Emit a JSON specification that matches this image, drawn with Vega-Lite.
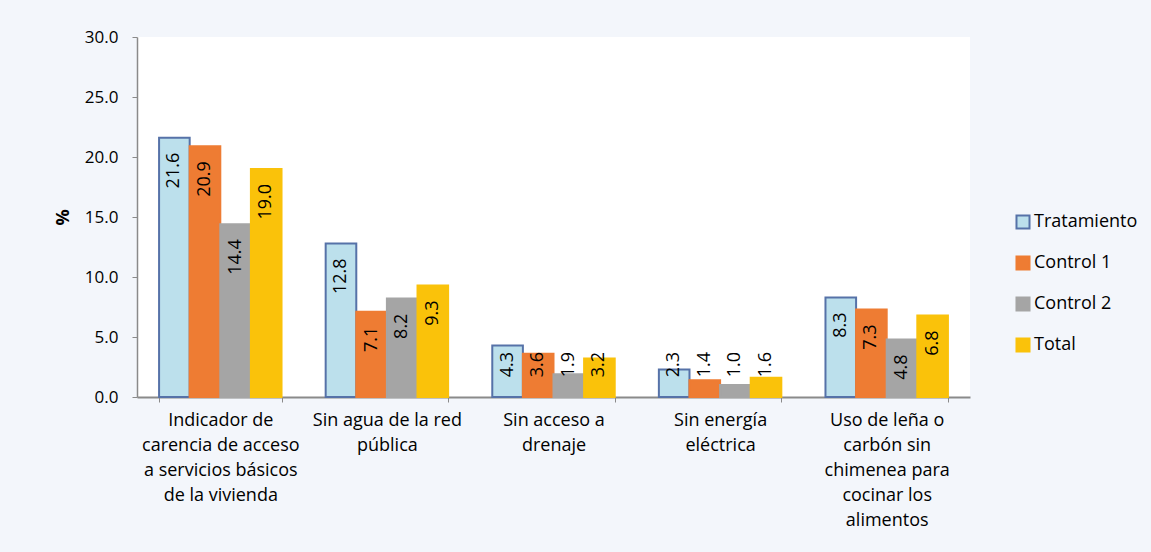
{
  "$schema": "https://vega.github.io/schema/vega-lite/v6.json",
  "width": 833,
  "height": 360,
  "autosize": {"type": "none"},
  "padding": {"left": 137, "top": 37, "right": 181, "bottom": 155},
  "background": "#F3F6FB",
  "config": {
    "font": "Open Sans",
    "view": {"fill": "white", "stroke": null},
    "axis": {"labelFont": "Open Sans", "titleFont": "Open Sans", "labelColor": "#000000", "titleColor": "#000000"},
    "legend": {"labelFont": "Open Sans"}
  },
  "data": {
    "values": [
      {"cat": "Indicador de|carencia de acceso|a servicios básicos|de la vivienda", "serie": "Tratamiento", "v": 21.6},
      {"cat": "Indicador de|carencia de acceso|a servicios básicos|de la vivienda", "serie": "Control 1", "v": 20.9},
      {"cat": "Indicador de|carencia de acceso|a servicios básicos|de la vivienda", "serie": "Control 2", "v": 14.4},
      {"cat": "Indicador de|carencia de acceso|a servicios básicos|de la vivienda", "serie": "Total", "v": 19.0},
      {"cat": "Sin agua de la red|pública", "serie": "Tratamiento", "v": 12.8},
      {"cat": "Sin agua de la red|pública", "serie": "Control 1", "v": 7.1},
      {"cat": "Sin agua de la red|pública", "serie": "Control 2", "v": 8.2},
      {"cat": "Sin agua de la red|pública", "serie": "Total", "v": 9.3},
      {"cat": "Sin acceso a|drenaje", "serie": "Tratamiento", "v": 4.3},
      {"cat": "Sin acceso a|drenaje", "serie": "Control 1", "v": 3.6},
      {"cat": "Sin acceso a|drenaje", "serie": "Control 2", "v": 1.9},
      {"cat": "Sin acceso a|drenaje", "serie": "Total", "v": 3.2},
      {"cat": "Sin energía|eléctrica", "serie": "Tratamiento", "v": 2.3},
      {"cat": "Sin energía|eléctrica", "serie": "Control 1", "v": 1.4},
      {"cat": "Sin energía|eléctrica", "serie": "Control 2", "v": 1.0},
      {"cat": "Sin energía|eléctrica", "serie": "Total", "v": 1.6},
      {"cat": "Uso de leña o|carbón sin|chimenea para|cocinar los|alimentos", "serie": "Tratamiento", "v": 8.3},
      {"cat": "Uso de leña o|carbón sin|chimenea para|cocinar los|alimentos", "serie": "Control 1", "v": 7.3},
      {"cat": "Uso de leña o|carbón sin|chimenea para|cocinar los|alimentos", "serie": "Control 2", "v": 4.8},
      {"cat": "Uso de leña o|carbón sin|chimenea para|cocinar los|alimentos", "serie": "Total", "v": 6.8}
    ]
  },
  "encoding": {
    "x": {
      "field": "cat", "type": "nominal", "sort": null,
      "scale": {"paddingInner": 0.265, "paddingOuter": 0.1325},
      "axis": {
        "title": null, "labelAngle": 0, "labelExpr": "split(datum.label, '|')",
        "labelBaseline": "top", "labelLineHeight": 25, "labelFontSize": 18,
        "labelPadding": 9, "labelLimit": 300, "tickBand": "extent", "tickSize": 5,
        "tickColor": "#8A8A8A", "domainColor": "#8A8A8A", "domainWidth": 2
      }
    },
    "xOffset": {
      "field": "serie", "type": "nominal",
      "scale": {"domain": ["Tratamiento", "Control 1", "Control 2", "Total"], "paddingInner": 0, "paddingOuter": 0}
    },
    "y": {
      "field": "v", "type": "quantitative",
      "scale": {"domain": [0, 30], "nice": false},
      "axis": {
        "title": "%", "titleFontSize": 18, "titleFontWeight": "bold", "titlePadding": 12,
        "values": [0, 5, 10, 15, 20, 25, 30], "format": ".1f", "grid": false,
        "labelFontSize": 17, "labelPadding": 14, "tickSize": 5,
        "tickColor": "#8A8A8A", "domainColor": "#8A8A8A", "domainWidth": 1.5
      }
    }
  },
  "layer": [
    {
      "mark": {"type": "bar", "strokeWidth": 2},
      "encoding": {
        "fill": {
          "field": "serie", "type": "nominal",
          "scale": {"domain": ["Tratamiento", "Control 1", "Control 2", "Total"], "range": ["#BCE0EC", "#EE7C33", "#A5A5A5", "#FAC20A"]},
          "legend": {
            "title": null, "orient": "none", "legendX": 877, "legendY": 176,
            "symbolType": "square", "symbolSize": 170, "symbolStrokeWidth": 2,
            "labelFontSize": 18, "labelColor": "#000000", "rowPadding": 19, "labelOffset": 2
          }
        },
        "stroke": {
          "field": "serie", "type": "nominal",
          "scale": {"domain": ["Tratamiento", "Control 1", "Control 2", "Total"], "range": ["#5672A8", "#EE7C33", "#A5A5A5", "#FAC20A"]},
          "legend": {
            "title": null, "orient": "none", "legendX": 877, "legendY": 176,
            "symbolType": "square", "symbolSize": 170, "symbolStrokeWidth": 2,
            "labelFontSize": 18, "labelColor": "#000000", "rowPadding": 19, "labelOffset": 2
          }
        }
      }
    },
    {
      "transform": [{"filter": "datum.v >= 4.5"}],
      "mark": {"type": "text", "angle": 270, "align": "right", "baseline": "middle", "dx": -15, "fontSize": 18, "color": "#000000"},
      "encoding": {
        "text": {"field": "v", "type": "quantitative", "format": ".1f"}
      }
    },
    {
      "transform": [{"filter": "datum.v < 4.5"}],
      "mark": {"type": "text", "angle": 270, "align": "right", "baseline": "middle", "fontSize": 18, "color": "#000000"},
      "encoding": {
        "y": {"datum": 3.75, "type": "quantitative"},
        "text": {"field": "v", "type": "quantitative", "format": ".1f"}
      }
    }
  ]
}
